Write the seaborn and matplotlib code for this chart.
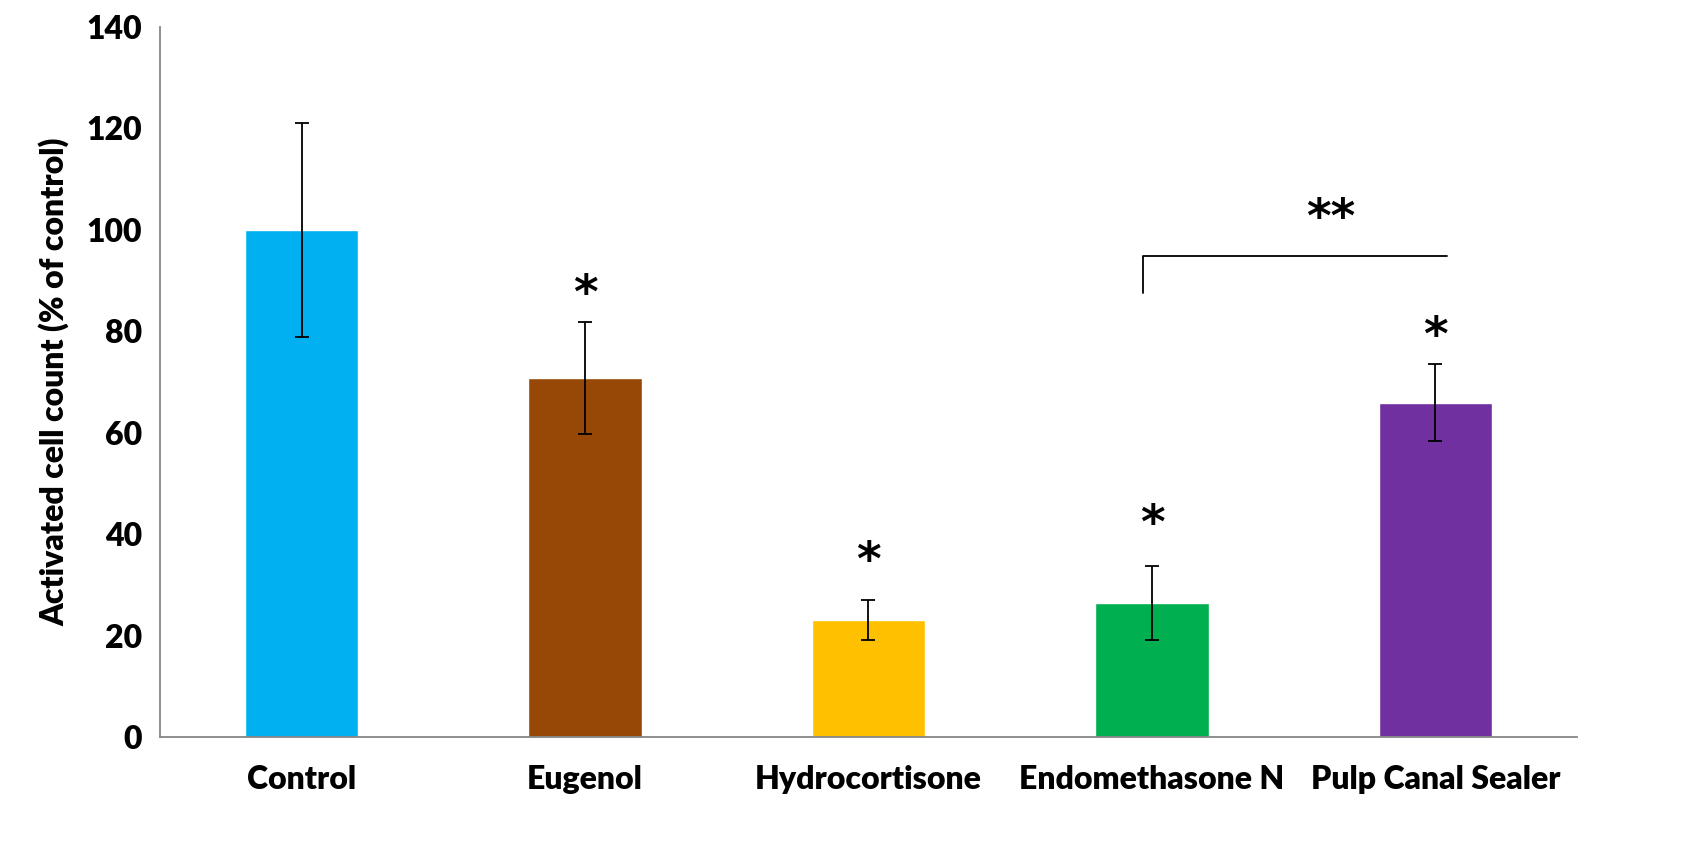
import matplotlib
matplotlib.use("Agg")
import matplotlib.pyplot as plt
import seaborn as sns
import pandas as pd

# data
categories = ["Control", "Eugenol", "Hydrocortisone", "Endomethasone N", "Pulp Canal Sealer"]
values = [100.0, 70.8, 23.1, 26.4, 65.9]
errors = [21.1, 11.1, 3.9, 7.3, 7.6]
colors = ["#00B0F0", "#974706", "#FFC000", "#00B050", "#7030A0"]
star_labels = ["", "*", "*", "*", "*"]
star_y = [0, 87.0, 34.3, 41.6, 78.7]
yticks = [0, 20, 40, 60, 80, 100, 120, 140]

sns.set_style("white")
plt.rcParams["font.family"] = ["Lato", "DejaVu Sans"]
plt.rcParams["text.color"] = "black"
plt.rcParams["axes.labelcolor"] = "black"
plt.rcParams["xtick.labelcolor"] = "black"
plt.rcParams["ytick.labelcolor"] = "black"
FW = "heavy"

df = pd.DataFrame({"group": categories, "value": values})

fig = plt.figure(figsize=(16.89, 8.64), dpi=100)
ax = fig.add_axes([0.0947, 0.147, 0.839, 0.822])

sns.barplot(data=df, x="group", y="value", hue="group", palette=colors,
            width=0.4, legend=False, ax=ax, saturation=1)
ax.errorbar(range(len(values)), values, yerr=errors, fmt="none",
            ecolor="black", elinewidth=1.3, capsize=5, capthick=1.3)

for i, (lab, y) in enumerate(zip(star_labels, star_y)):
    if lab:
        ax.text(i, y, lab, ha="center", va="center", fontsize=34,
                fontweight="bold", family="DejaVu Sans", color="black")

# bracket between Endomethasone N and Pulp Canal Sealer
ax.plot([2.97, 2.97, 4.04], [87.6, 94.9, 94.9], color="black", lw=1.3)
ax.text(3.63, 102.0, "**", ha="center", va="center", fontsize=34,
        fontweight="bold", family="DejaVu Sans", color="black")

ax.set_xlim(-0.5, 4.5)
ax.set_ylim(0, 140)
ax.set_yticks(yticks)
ax.set_yticklabels([str(t) for t in yticks], fontsize=23, fontweight=FW)

ax.set_xticks([-0.5, 0.5, 1.5, 2.5, 3.5, 4.5])
ax.set_xticklabels([])
ax.set_xticks(range(len(categories)), minor=True)
ax.set_xticklabels(categories, minor=True, fontsize=23, fontweight=FW)
ax.tick_params(axis="x", which="minor", length=0, pad=20)
ax.tick_params(axis="x", which="major", length=9, width=1.3, color="#868686", direction="out")
ax.tick_params(axis="y", length=7, width=1.3, color="#868686", direction="out", pad=6)

ax.set_xlabel("")
ax.set_ylabel("Activated cell count (% of control)", fontsize=23, fontweight=FW, labelpad=12)

sns.despine(ax=ax)
for s in ["left", "bottom"]:
    ax.spines[s].set_color("#868686")
    ax.spines[s].set_linewidth(1.3)

fig.savefig("out.png", dpi=100)
